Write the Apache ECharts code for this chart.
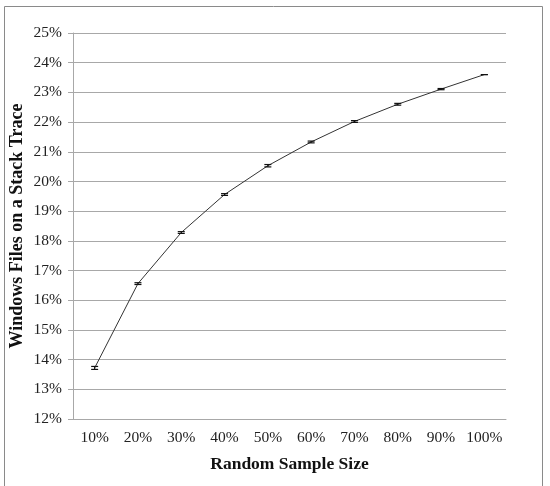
<!DOCTYPE html>
<html>
<head>
  <meta charset="utf-8">
  <title>Windows Files on a Stack Trace</title>
  <script src="https://cdn.jsdelivr.net/npm/echarts@6/dist/echarts.min.js"></script>
  <style>
    html, body { margin: 0; padding: 0; background: #fff; }
    #chart { width: 550px; height: 486px; }
  </style>
</head>
<body>
<div id="chart"></div>
<script type="text/javascript">
  // sample size categories and mean share of windows files (percent)
  let sampleSizes = ['10%', '20%', '30%', '40%', '50%', '60%', '70%', '80%', '90%', '100%'];
  let meanPct = [13.72, 16.56, 18.28, 19.56, 20.53, 21.33, 22.02, 22.60, 23.11, 23.60];
  let errPct = [0.05, 0.03, 0.03, 0.03, 0.04, 0.03, 0.03, 0.03, 0.02, 0.0];

  let errData = sampleSizes.map(function (s, i) {
    return [i, meanPct[i] - errPct[i], meanPct[i] + errPct[i]];
  });

  let serif = '"Liberation Serif", "DejaVu Serif", serif';
  let myChart = echarts.init(document.getElementById('chart'));

  myChart.setOption({
    animation: false,
    textStyle: { fontFamily: serif },
    graphic: [{
      type: 'rect',
      shape: { x: 4.5, y: 6.5, width: 538, height: 500 },
      style: { fill: 'none', stroke: '#8a8a8a', lineWidth: 1 }
    }],
    grid: { left: 73, top: 33, width: 433, height: 386, outerBoundsMode: 'none', containLabel: false },
    xAxis: {
      type: 'category',
      data: sampleSizes,
      name: 'Random Sample Size',
      nameLocation: 'middle',
      nameGap: 36,
      nameMoveOverlap: false,
      nameTextStyle: { fontFamily: serif, fontSize: 17.5, fontWeight: 'bold', color: '#111' },
      axisLine: { lineStyle: { color: '#a8a8a8' } },
      axisTick: { length: 5, lineStyle: { color: '#a8a8a8' } },
      axisLabel: { interval: 0, fontFamily: serif, fontSize: 15.5, color: '#222', margin: 11 }
    },
    yAxis: {
      type: 'value',
      min: 12,
      max: 25,
      interval: 1,
      name: 'Windows Files on a Stack Trace',
      nameLocation: 'middle',
      nameGap: 47,
      nameMoveOverlap: false,
      nameTextStyle: { fontFamily: serif, fontSize: 18, fontWeight: 'bold', color: '#111' },
      axisLine: { show: true, lineStyle: { color: '#a8a8a8' } },
      axisTick: { show: true, length: 5, lineStyle: { color: '#a8a8a8' } },
      axisLabel: { fontFamily: serif, fontSize: 15.5, color: '#222', margin: 11, formatter: '{value}%' },
      splitLine: { lineStyle: { color: '#a8a8a8' } }
    },
    series: [
      {
        type: 'line',
        data: meanPct,
        showSymbol: false,
        lineStyle: { color: '#333', width: 1 },
        z: 3
      },
      {
        type: 'custom',
        data: errData,
        z: 4,
        renderItem: function (params, api) {
          let lo = api.coord([api.value(0), api.value(1)]);
          let hi = api.coord([api.value(0), api.value(2)]);
          let w = 3.5;
          let st = { stroke: '#111', lineWidth: 1.2 };
          return {
            type: 'group',
            children: [
              { type: 'line', shape: { x1: lo[0], y1: lo[1], x2: hi[0], y2: hi[1] }, style: st },
              { type: 'line', shape: { x1: lo[0] - w, y1: lo[1], x2: lo[0] + w, y2: lo[1] }, style: st },
              { type: 'line', shape: { x1: hi[0] - w, y1: hi[1], x2: hi[0] + w, y2: hi[1] }, style: st }
            ]
          };
        }
      }
    ]
  });
</script>
</body>
</html>
